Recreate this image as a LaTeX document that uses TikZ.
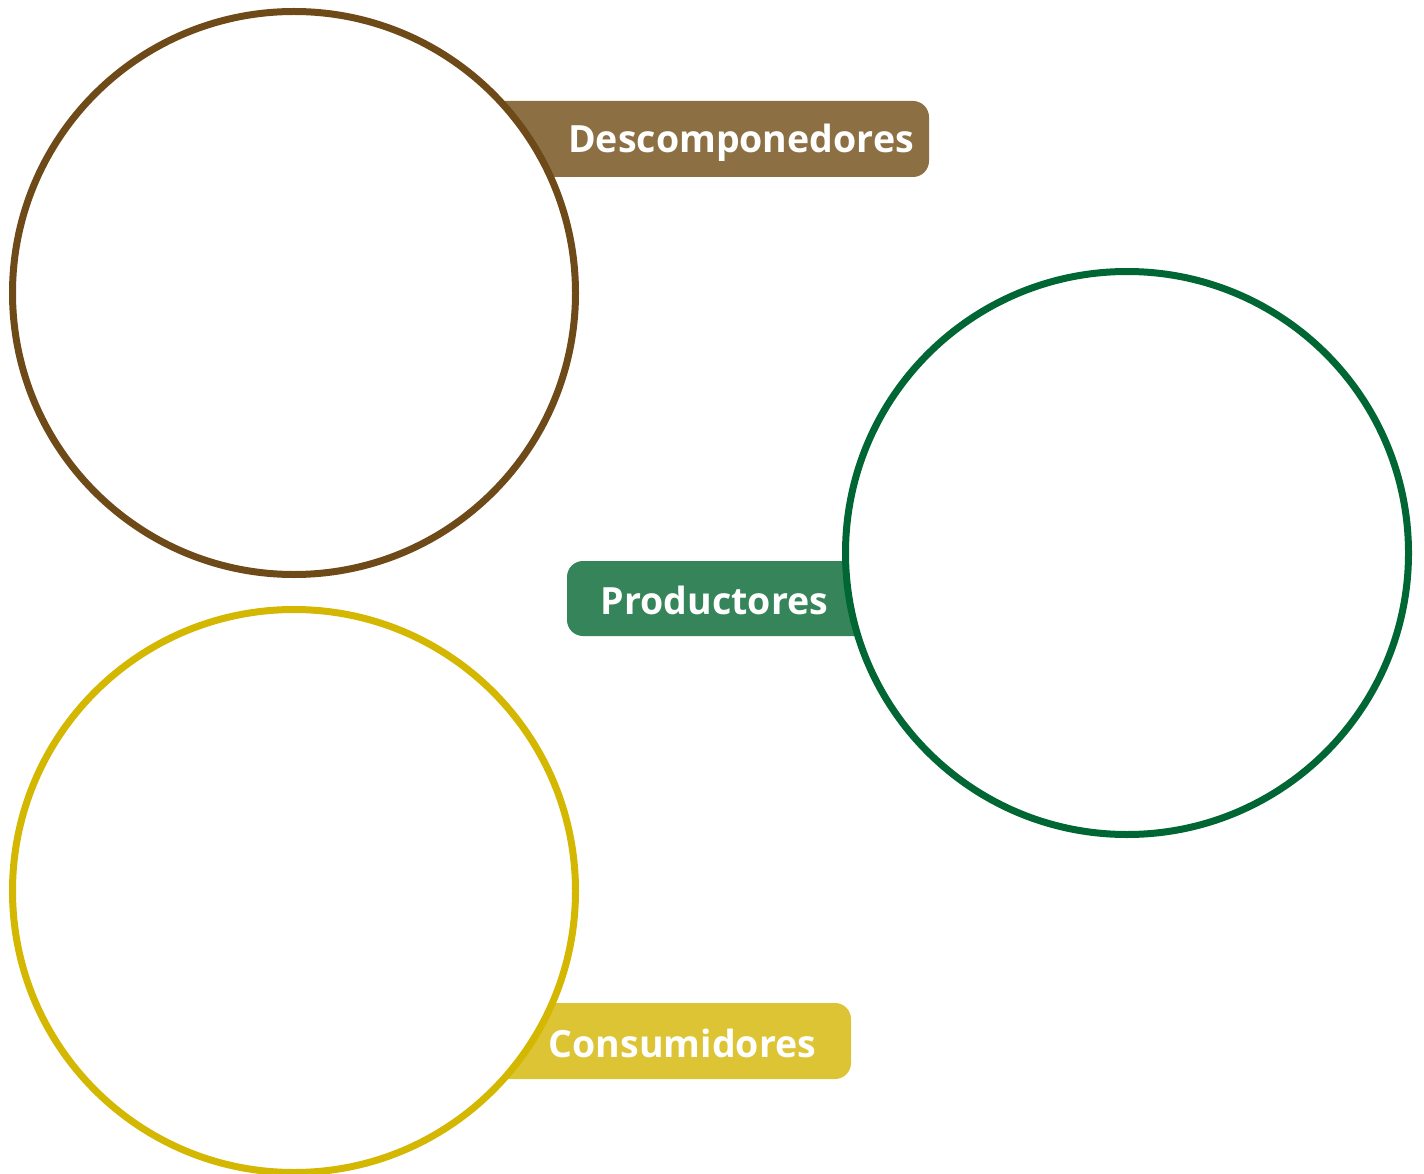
\documentclass[tikz,border=0pt]{standalone}
\usepackage{fontspec}
\setmainfont{Open Sans}
\definecolor{brownbox}{HTML}{8C7044}
\definecolor{brownring}{HTML}{6E4A18}
\definecolor{greenbox}{HTML}{35845A}
\definecolor{greenring}{HTML}{006633}
\definecolor{yellowbox}{HTML}{DCC434}
\definecolor{yellowring}{HTML}{D4B700}
\begin{document}
\begin{tikzpicture}[x=1pt,y=-1pt,
  labelbox/.style={rounded corners=16pt},
  ring/.style={circle,line width=7pt,fill=white,minimum size=563pt,inner sep=0pt},
  labeltext/.style={text=white,font=\fontsize{37.5}{42}\selectfont\bfseries,inner sep=0pt,anchor=center}]
\useasboundingbox (0,0) rectangle (1424,1174);
% label boxes
\fill[brownbox,labelbox] (450,101) rectangle (929,177);
\fill[greenbox,labelbox] (567,561) rectangle (900,636);
\fill[yellowbox,labelbox] (450,1003) rectangle (851,1079);
% rings
\node[ring,draw=brownring] (dec) at (294,293) {};
\node[ring,draw=greenring] (pro) at (1127,553) {};
\node[ring,draw=yellowring] (con) at (294,891) {};
% texts
\node[labeltext] (tdec) at (741,143) {Descomponedores};
\node[labeltext] (tpro) at (714.5,600) {Productores};
\node[labeltext] (tcon) at (682.5,1043) {Consumidores};
\end{tikzpicture}
\end{document}
